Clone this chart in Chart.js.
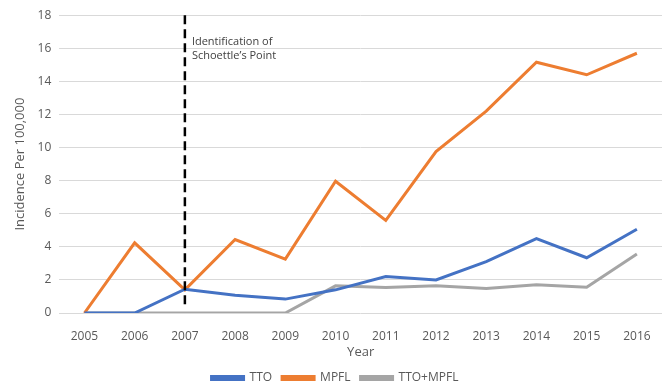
<!DOCTYPE html>
<html>
<head>
<meta charset="utf-8">
<script src="https://cdn.jsdelivr.net/npm/chart.js@4.4.0/dist/chart.umd.min.js"></script>
<style>
  html, body { margin: 0; padding: 0; background: #fff; }
  #wrap { width: 664px; height: 386px; }
</style>
</head>
<body>
<div id="wrap"><canvas id="chart" width="664" height="386"></canvas></div>
<script>
const years = ['2005', '2006', '2007', '2008', '2009', '2010', '2011', '2012', '2013', '2014', '2015', '2016'];
const tto = [0, 0, 1.44, 1.08, 0.84, 1.4, 2.2, 2.0, 3.1, 4.5, 3.34, 5.06];
const mpfl = [0, 4.24, 1.4, 4.44, 3.26, 7.96, 5.6, 9.76, 12.2, 15.16, 14.4, 15.7];
const ttoMpfl = [0, 0, 0, 0, 0, 1.64, 1.54, 1.64, 1.48, 1.7, 1.56, 3.56];

const markerYear = '2007';
const markerText = ['Identification of', 'Schoettle\u2019s Point'];

// dashed vertical line + label at the year Schoettle's point was described
const markerPlugin = {
    id: 'marker',
    afterDatasetsDraw(chart) {
        const ctx = chart.ctx;
        const x = chart.scales.x.getPixelForValue(years.indexOf(markerYear));
        const yTop = chart.scales.y.getPixelForValue(18);
        const yBot = chart.scales.y.getPixelForValue(0.4);
        ctx.save();
        ctx.strokeStyle = '#000';
        ctx.lineWidth = 2.5;
        ctx.setLineDash([9, 5]);
        ctx.beginPath();
        ctx.moveTo(x, yTop);
        ctx.lineTo(x, yBot);
        ctx.stroke();
        ctx.setLineDash([]);
        ctx.fillStyle = '#404040';
        ctx.font = '11px "Open Sans"';
        ctx.textBaseline = 'middle';
        ctx.fillText(markerText[0], x + 7, chart.scales.y.getPixelForValue(16.4));
        ctx.fillText(markerText[1], x + 7, chart.scales.y.getPixelForValue(15.55));
        ctx.restore();
    }
};

// keep the legend strip short so the plot gets the room
const legendHeight = {
    id: 'legendHeight',
    beforeInit(chart) {
        const fit = chart.legend.fit;
        chart.legend.fit = function () {
            fit.bind(chart.legend)();
            this.height = 24;
        };
    }
};

const ctx = document.getElementById('chart').getContext('2d');
new Chart(ctx, {
    type: 'line',
    data: {
        labels: years,
        datasets: [
            { label: 'TTO', data: tto, borderColor: '#4472C4', backgroundColor: '#4472C4' },
            { label: 'MPFL', data: mpfl, borderColor: '#ED7D31', backgroundColor: '#ED7D31' },
            { label: 'TTO+MPFL', data: ttoMpfl, borderColor: '#A5A5A5', backgroundColor: '#A5A5A5' }
        ]
    },
    options: {
        responsive: false,
        animation: false,
        devicePixelRatio: 1,
        layout: { padding: { top: 8, right: 2, left: 8, bottom: 0 } },
        elements: {
            line: { borderWidth: 3, tension: 0 },
            point: { radius: 0 }
        },
        scales: {
            x: {
                offset: true,
                grid: { display: false },
                border: { display: false },
                ticks: { color: '#595959', font: { family: 'Open Sans', size: 12 }, maxRotation: 0, padding: 8 },
                title: { display: true, text: 'Year', color: '#595959', font: { family: 'Open Sans', size: 13 }, padding: { top: -7, bottom: 2 } }
            },
            y: {
                min: 0,
                max: 18,
                ticks: { stepSize: 2, color: '#595959', font: { family: 'Open Sans', size: 12 }, padding: 8 },
                grid: { color: '#D9D9D9', lineWidth: 1, drawTicks: false },
                border: { display: false },
                title: { display: true, text: 'Incidence Per 100,000', color: '#595959', font: { family: 'Open Sans', size: 13 }, padding: { bottom: 2 } }
            }
        },
        plugins: {
            legend: {
                position: 'bottom',
                labels: {
                    boxWidth: 32,
                    boxHeight: 3,
                    color: '#595959',
                    font: { family: 'Open Sans', size: 12 },
                    padding: 10
                }
            },
            tooltip: { enabled: false }
        }
    },
    plugins: [legendHeight, markerPlugin]
});
</script>
</body>
</html>
